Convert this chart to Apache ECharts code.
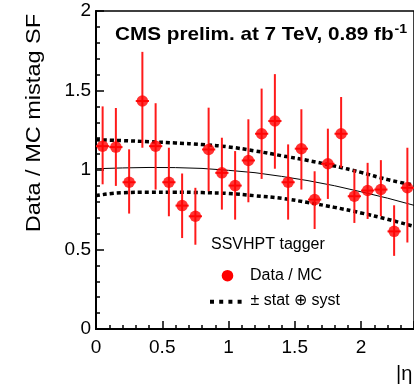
<!DOCTYPE html>
<html><head><meta charset="utf-8">
<script src="https://cdn.jsdelivr.net/npm/echarts@6/dist/echarts.min.js"></script>
<style>html,body{margin:0;padding:0;background:#fff}#c{width:414px;height:387px}</style>
</head><body><div id="c"></div>
<script>
// ---- data ----
const etaCenters = [0.05,0.15,0.25,0.35,0.45,0.55,0.65,0.75,0.85,0.95,1.05,1.15,1.25,1.35,1.45,1.55,1.65,1.75,1.85,1.95,2.05,2.15,2.25,2.35];
const sfValues  = [1.150,1.144,0.923,1.434,1.150,0.923,0.776,0.709,1.129,0.982,0.902,1.060,1.228,1.308,0.923,1.134,0.814,1.039,1.228,0.835,0.871,0.877,0.614,0.888];
const sfErrHigh = [1.400,1.390,1.130,1.743,1.420,1.140,0.978,0.888,1.392,1.203,1.119,1.319,1.512,1.603,1.161,1.382,0.992,1.260,1.459,1.003,1.045,1.062,0.778,1.140];
const sfErrLow  = [0.910,0.900,0.726,1.140,0.877,0.709,0.572,0.530,0.866,0.751,0.688,0.797,0.944,1.008,0.688,0.877,0.629,0.818,1.014,0.667,0.692,0.709,0.460,0.544];
const binHalfWidth = 0.05;

const fitEta   = [0.0,0.2,0.4,0.6,0.8,1.0,1.2,1.4,1.6,1.8,2.0,2.2,2.4];
const fitMean  = [1.008,1.013,1.016,1.015,1.010,0.998,0.983,0.960,0.933,0.901,0.863,0.823,0.778];
const fitUpper = [1.190,1.185,1.178,1.170,1.160,1.145,1.120,1.090,1.060,1.025,0.985,0.940,0.905];
const fitLower = [0.838,0.857,0.860,0.860,0.858,0.852,0.838,0.822,0.795,0.765,0.730,0.690,0.645];

const yTicks = [0, 0.5, 1, 1.5, 2];
const xTicks = [0, 0.5, 1, 1.5, 2];

const FONT = "'Liberation Sans', Arial, Helvetica, sans-serif";

const chart = echarts.init(document.getElementById('c'), null, {renderer:'canvas'});
const pair = (xs, ys) => xs.map((x,i)=>[x, ys[i]]);

const option = {
  animation: false,
  backgroundColor: '#fff',
  grid: { left: 96, top: 11, bottom: 58, right: -5, show: true, borderColor: '#000', borderWidth: 1.5, backgroundColor: 'transparent' },
  xAxis: {
    type: 'value', min: 0, max: 2.4, interval: 0.5,
    axisLine: { show: true, lineStyle: { color: '#000', width: 2 } },
    axisTick: { show: true, inside: true, length: 8, lineStyle: { color: '#000', width: 1.5 } },
    minorTick: { show: true, splitNumber: 5, length: 4, lineStyle: { color: '#000', width: 1.5 } },
    splitLine: { show: false },
    axisLabel: { color: '#000', fontFamily: FONT, fontSize: 19, margin: 9, showMaxLabel: false,
      formatter: v => xTicks.indexOf(Math.round(v*10)/10) >= 0 ? String(Math.round(v*10)/10) : '' }
  },
  yAxis: {
    type: 'value', min: 0, max: 2, interval: 0.5,
    axisLine: { show: true, lineStyle: { color: '#000', width: 2 } },
    axisTick: { show: true, inside: true, length: 8, lineStyle: { color: '#000', width: 1.5 } },
    minorTick: { show: true, splitNumber: 5, length: 4, lineStyle: { color: '#000', width: 1.5 } },
    splitLine: { show: false },
    axisLabel: { color: '#000', fontFamily: FONT, fontSize: 19, margin: 5,
      formatter: v => yTicks.indexOf(v) >= 0 ? String(v) : '' }
  },
  series: [
    { type: 'line', data: pair(fitEta, fitMean), showSymbol: false, smooth: false, z: 2,
      lineStyle: { color: '#000', width: 1 } },
    { type: 'line', data: pair(fitEta, fitUpper), showSymbol: false, smooth: true, z: 2,
      lineStyle: { color: '#000', width: 3.5, type: [4, 3] } },
    { type: 'line', data: pair(fitEta, fitLower), showSymbol: false, smooth: true, z: 2,
      lineStyle: { color: '#000', width: 3.5, type: [4, 3] } },
    { type: 'custom', z: 3,
      data: etaCenters.map((x,i)=>[x, sfValues[i], sfErrLow[i], sfErrHigh[i]]),
      renderItem: function(params, api){
        const x = api.value(0), y = api.value(1), lo = api.value(2), hi = api.value(3);
        const pT = api.coord([x, hi]), pB = api.coord([x, lo]);
        const pL = api.coord([x - binHalfWidth, y]), pR = api.coord([x + binHalfWidth, y]);
        return { type: 'group', children: [
          { type: 'line', shape: { x1: pT[0], y1: pT[1], x2: pB[0], y2: pB[1] }, style: { stroke: '#ff1a1a', lineWidth: 2 } },
          { type: 'line', shape: { x1: pL[0], y1: pL[1], x2: pR[0], y2: pR[1] }, style: { stroke: '#ff1a1a', lineWidth: 2 } }
        ]};
      }
    },
    { type: 'scatter', data: pair(etaCenters, sfValues), symbol: 'circle', symbolSize: 11.5, z: 4,
      itemStyle: { color: '#ff0000' } }
  ],
  graphic: [
    { type: 'text', x: 115, y: 35, scaleX: 1.09, z: 10,
      style: { text: '{a|CMS prelim. at 7 TeV, 0.89 fb}{s|-1}', verticalAlign: 'middle', align: 'left',
        rich: { a: { fontFamily: FONT, fontWeight: 'bold', fontSize: 19, lineHeight: 24, fill: '#000' },
                s: { fontFamily: FONT, fontWeight: 'bold', fontSize: 13, lineHeight: 24, verticalAlign: 'top', padding: [0, 0, 0, 1], fill: '#000' } } } },
    { type: 'text', x: 34, y: 123, rotation: Math.PI/2, scaleX: 1.12, z: 10,
      style: { text: 'Data / MC mistag SF', font: '21px ' + FONT, fill: '#000', align: 'center', verticalAlign: 'middle' } },
    { type: 'text', x: 396, y: 374, z: 10,
      style: { text: '|η|', font: '20px ' + FONT, fill: '#000', align: 'left', verticalAlign: 'middle' } },
    { type: 'text', x: 211, y: 245, z: 10,
      style: { text: 'SSVHPT tagger', font: '16px ' + FONT, fill: '#000', align: 'left', verticalAlign: 'middle' } },
    { type: 'circle', shape: { cx: 227.5, cy: 275.7, r: 5.8 }, style: { fill: '#ff0000' }, z: 10 },
    { type: 'text', x: 250, y: 276, z: 10,
      style: { text: 'Data / MC', font: '16px ' + FONT, fill: '#000', align: 'left', verticalAlign: 'middle' } },
    { type: 'line', shape: { x1: 210, y1: 301.7, x2: 244, y2: 301.7 }, z: 10,
      style: { stroke: '#000', lineWidth: 4, lineDash: [4, 5.2] } },
    { type: 'text', x: 250.5, y: 301, z: 10,
      style: { text: '± stat ⊕ syst', font: '16px ' + FONT, fill: '#000', align: 'left', verticalAlign: 'middle' } }
  ]
};
chart.setOption(option);
</script>
</body></html>
